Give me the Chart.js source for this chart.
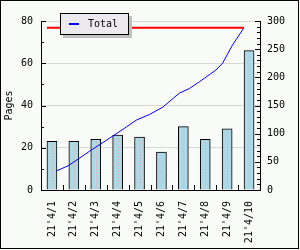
<!DOCTYPE html>
<html>
<head>
<meta charset="utf-8">
<script src="https://cdn.jsdelivr.net/npm/chart.js@4/dist/chart.umd.min.js"></script>
<style>
  html, body { margin: 0; padding: 0; background: #f9fbf8; }
  #wrap { position: relative; width: 300px; height: 250px; }
  #frame { position: absolute; left: 0; top: 0; width: 299px; height: 249px; border: 1px solid #000; box-sizing: border-box; pointer-events: none; }
  #legend { position: absolute; left: 60px; top: 13px; width: 69px; height: 22px; box-sizing: border-box;
            border: 1px solid #000; background: #ece9ef; box-shadow: 3px 3px 0 #c0c0c0; }
  #legend .swatch { position: absolute; left: 8px; top: 9px; width: 10px; height: 2px; background: #0000ff; }
  #legend .label { position: absolute; left: 27px; top: 4px; font: 10px/12px "DejaVu Sans Mono", monospace; color: #000; }
</style>
</head>
<body>
<div id="wrap">
  <canvas id="chart" width="300" height="250"></canvas>
  <div id="legend"><div class="swatch"></div><div class="label">Total</div></div>
  <div id="frame"></div>
</div>
<script>
// --- data ---
const days = ["21'4/1", "21'4/2", "21'4/3", "21'4/4", "21'4/5", "21'4/6", "21'4/7", "21'4/8", "21'4/9", "21'4/10"];
const pages = [23, 23, 24, 26, 25, 18, 30, 24, 29, 66];

// running total (right axis), sampled along the drawn line; positions in day units (0 = first day)
const totalPos = [0.21, 0.74, 1.20, 1.80, 2.79, 3.40, 3.85, 4.45, 5.06, 5.82, 6.27, 6.73, 7.49, 7.79, 8.24, 8.77];
const totalVals = [34, 43, 55, 71, 96, 112, 124, 134, 147, 172, 180, 192, 213, 225, 257, 288];

// red max marker line
const maxPos = [-0.23, 8.77];
const maxTotal = 288;

const pagesTicks = { min: 0, max: 80, step: 10, labelEvery: 20 };
const totalTicks = { min: 0, max: 300, step: 10, labelEvery: 50 };

Chart.defaults.font.family = '"DejaVu Sans Mono", monospace';
Chart.defaults.font.size = 10;
Chart.defaults.color = '#000';

// inward tick marks on all three axes
const axisTicks = {
  id: 'axisTicks',
  afterDraw(chart) {
    const { ctx, chartArea: a, scales: { x, y, y1 } } = chart;
    ctx.save();
    ctx.strokeStyle = '#000';
    ctx.lineWidth = 1;
    ctx.beginPath();
    y.ticks.forEach((t, i) => {
      const py = Math.round(y.getPixelForTick(i)) + 0.5;
      const len = t.value % pagesTicks.labelEvery === 0 ? 5 : 3;
      ctx.moveTo(a.left, py); ctx.lineTo(a.left + len, py);
    });
    y1.ticks.forEach((t, i) => {
      const py = Math.round(y1.getPixelForTick(i)) + 0.5;
      const len = t.value % totalTicks.labelEvery === 0 ? 5 : 3;
      ctx.moveTo(a.right, py); ctx.lineTo(a.right - len, py);
    });
    for (let i = 1; i < days.length; i++) {
      const px = Math.round(x.getPixelForValue(i - 0.5)) + 0.5;
      ctx.moveTo(px, a.bottom); ctx.lineTo(px, a.bottom - 5);
    }
    ctx.stroke();
    ctx.restore();
  }
};

// dotted pink line down the middle of each bar
const barDots = {
  id: 'barDots',
  afterDatasetDraw(chart, args) {
    if (args.index !== 0) return;
    const { ctx } = chart;
    ctx.save();
    ctx.strokeStyle = '#f0a898';
    ctx.lineWidth = 1;
    ctx.setLineDash([1, 2]);
    args.meta.data.forEach(bar => {
      const px = Math.round(bar.x) + 0.5;
      ctx.beginPath();
      ctx.moveTo(px, bar.y + 3);
      ctx.lineTo(px, bar.base - 1);
      ctx.stroke();
    });
    ctx.restore();
  }
};

new Chart(document.getElementById('chart'), {
  data: {
    datasets: [
      {
        type: 'bar',
        label: 'Pages',
        data: pages.map((v, i) => ({ x: i, y: v })),
        yAxisID: 'y',
        backgroundColor: '#add8e6',
        borderColor: '#000',
        borderWidth: 1,
        barThickness: 10,
        order: 2
      },
      {
        type: 'line',
        label: 'Total',
        data: totalPos.map((p, i) => ({ x: p, y: totalVals[i] })),
        yAxisID: 'y1',
        borderColor: '#0000ff',
        borderWidth: 1,
        pointRadius: 0,
        tension: 0,
        order: 1
      },
      {
        type: 'line',
        label: 'Max',
        data: maxPos.map(p => ({ x: p, y: maxTotal })),
        yAxisID: 'y1',
        borderColor: '#ff0000',
        borderWidth: 2,
        pointRadius: 0,
        order: 0
      }
    ]
  },
  options: {
    responsive: false,
    animation: false,
    devicePixelRatio: 1,
    layout: { padding: { top: 21, left: 0, right: 0, bottom: 0 } },
    plugins: { legend: { display: false }, tooltip: { enabled: false } },
    scales: {
      x: {
        type: 'linear',
        offset: false,
        min: -0.5,
        max: days.length - 0.5,
        afterBuildTicks: s => { s.ticks = days.map((d, i) => ({ value: i })); },
        grid: { display: true, drawOnChartArea: false, drawTicks: false, offset: false },
        border: { color: '#000', width: 1 },
        ticks: {
          autoSkip: false, maxRotation: 90, minRotation: 90, padding: 11,
          callback: v => days[v]
        },
        afterFit: s => { s.height = 60; }
      },
      y: {
        position: 'left',
        min: pagesTicks.min,
        max: pagesTicks.max,
        ticks: {
          stepSize: pagesTicks.step,
          autoSkip: false,
          padding: 8,
          callback: v => (v % pagesTicks.labelEvery === 0 ? v : '')
        },
        grid: {
          drawTicks: false,
          color: c => (c.tick && c.tick.value > 0 && c.tick.value % pagesTicks.labelEvery === 0 ? '#d8d8d8' : 'rgba(0,0,0,0)')
        },
        border: { color: '#000', width: 1 },
        title: { display: true, text: 'Pages', padding: { top: 3, bottom: 0 } },
        afterFit: s => { s.width = 41; }
      },
      y1: {
        position: 'right',
        min: totalTicks.min,
        max: totalTicks.max,
        ticks: {
          stepSize: totalTicks.step,
          autoSkip: false,
          padding: 7,
          callback: v => (v % totalTicks.labelEvery === 0 ? v : '')
        },
        grid: { drawOnChartArea: false, drawTicks: false },
        border: { color: '#000', width: 1 },
        afterFit: s => { s.width = 40; }
      }
    }
  },
  plugins: [axisTicks, barDots]
});
</script>
</body>
</html>
